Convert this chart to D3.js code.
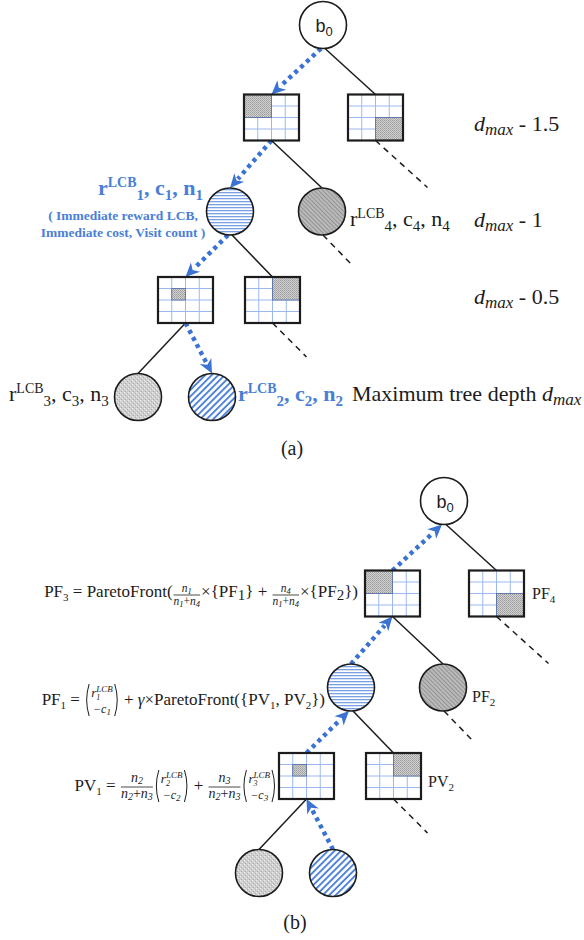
<!DOCTYPE html>
<html>
<head>
<meta charset="utf-8">
<script src="https://cdn.jsdelivr.net/npm/d3@7/dist/d3.min.js"></script>
<style>
html,body{margin:0;padding:0;background:#fff;}
svg{display:block;}
text{white-space:pre;}
</style>
</head>
<body>
<svg id="chart" width="584" height="940"></svg>
<script>
// ---------------- data ----------------
const nodeIds     = ["b0","a1","a2","o1","o4","a3","a4","o3","o2"];
const nodeKinds   = ["root","action","action","obsLines","obsGrey","action","action","obsStipple","obsHatch"];
const nodeDepths  = [0, 0.5, 0.5, 1, 1, 1.5, 1.5, 2, 2];
const nodeParents = [null,"b0","b0","a1","a1","o1","o1","a3","a3"];
const selectedPath = ["a1","o1","a3","o2"];
const openBranches = ["a2","o4","a4"];
const actionCells = {
  a1: [[0,0],[1,0],[0,1],[1,1]],
  a2: [[2,2],[3,2],[2,3],[3,3]],
  a3: [[1,1]],
  a4: [[2,0],[3,0],[2,1],[3,1]]
};
const depthLabels = [
  {depth: 0.5, pre: "", post: " - 1.5"},
  {depth: 1,   pre: "", post: " - 1"},
  {depth: 1.5, pre: "", post: " - 0.5"},
  {depth: 2,   pre: "Maximum tree depth ", post: ""}
];
const statIndex   = {o1: "1", o4: "4", o3: "3", o2: "2"};
const noteLines   = ["( Immediate reward LCB,", "Immediate cost, Visit count )"];
const backupNames = {a2: ["PF","4"], o4: ["PF","2"], a4: ["PV","2"]};
const captions    = ["(a)", "(b)"];

// ---------------- style / layout ----------------
const SERIF = "'Liberation Serif','Times New Roman',serif";
const SANS  = "'Liberation Sans',Arial,sans-serif";
const BLUE = "#3b73d3", BLUE_TXT = "#4a7fd6", INK = "#1c1c1c";
const R = 23.5, BW = 55, BH = 46;
const DX = {b0:0, a1:-51.5, a2:52.5, o1:-93, o4:-1, a3:-137.5, a4:-50.5, o3:-185, o2:-111};
const yLevel = d3.scaleLinear().domain([0,0.5,1,1.5,2]).range([0,92.5,186.5,275,372]);
const STUB = {a2:[52,47], o4:[30,31], a4:[34,34]};

const svg = d3.select("#chart");
const defs = svg.append("defs");

function pat(id, w, h, build, tr) {
  const p = defs.append("pattern").attr("id", id).attr("patternUnits","userSpaceOnUse")
    .attr("width", w).attr("height", h);
  if (tr) p.attr("patternTransform", tr);
  build(p);
}
pat("hl", 4, 3, p => {
  p.append("rect").attr("width",4).attr("height",3).attr("fill","#fff");
  p.append("rect").attr("width",4).attr("height",1.3).attr("fill","#7aa0e4");
});
pat("gd", 3, 3, p => {
  p.append("rect").attr("width",3).attr("height",3).attr("fill","#bcbcbc");
  p.append("rect").attr("width",1.1).attr("height",3).attr("fill","#939393");
}, "rotate(-45)");
pat("st", 4, 4, p => {
  p.append("rect").attr("width",4).attr("height",4).attr("fill","#cdcdcd");
  [[0,0,"#f0f0f0"],[2,2,"#ececec"],[1,3,"#ababab"],[3,1,"#b0b0b0"],[1,1,"#dedede"]].forEach(d =>
    p.append("rect").attr("x",d[0]).attr("y",d[1]).attr("width",1).attr("height",1).attr("fill",d[2]));
});
pat("bd", 4.6, 4.6, p => {
  p.append("rect").attr("width",4.6).attr("height",4.6).attr("fill","#fff");
  p.append("rect").attr("width",1.9).attr("height",4.6).attr("fill","#4d82d8");
}, "rotate(45)");
pat("ck", 2, 2, p => {
  p.append("rect").attr("width",2).attr("height",2).attr("fill","#d2d2d2");
  p.append("rect").attr("width",1).attr("height",1).attr("fill","#9c9c9c");
  p.append("rect").attr("x",1).attr("y",1).attr("width",1).attr("height",1).attr("fill","#a9a9a9");
});
const FILLS = {obsLines:"url(#hl)", obsGrey:"url(#gd)", obsStipple:"url(#st)", obsHatch:"url(#bd)", root:"#fff"};

// rich text: segments with size / dy (relative to baseline) / italic
function rich(g, x, y, segs, o = {}) {
  const t = g.append("text").attr("x", x).attr("y", y)
    .attr("font-family", o.family || SERIF).attr("fill", o.fill || INK)
    .attr("font-size", o.size || 16);
  if (o.bold) t.attr("font-weight", "bold");
  let prev = 0;
  segs.forEach(s => {
    const d = s.dy || 0;
    const sp = t.append("tspan").attr("dy", d - prev).text(s.t);
    prev = d;
    if (s.size) sp.attr("font-size", s.size);
    if (s.it || (o.it && s.it !== false)) sp.attr("font-style", "italic");
  });
  const w = t.node().getComputedTextLength();
  if (o.anchor === "end") t.attr("x", x - w);
  if (o.anchor === "middle") t.attr("x", x - w / 2);
  return {node: t, w};
}

function dottedArrow(g, a, b) {
  const dx = b[0]-a[0], dy = b[1]-a[1], L = Math.hypot(dx, dy), ux = dx/L, uy = dy/L;
  const hl = 14, hw = 6.5, nx = -uy, ny = ux;
  const bx = b[0]-ux*hl, by = b[1]-uy*hl;
  g.append("line").attr("x1", a[0]).attr("y1", a[1]).attr("x2", bx+ux*2).attr("y2", by+uy*2)
    .attr("stroke", BLUE).attr("stroke-width", 4.5).attr("stroke-dasharray", "4 4");
  g.append("path").attr("fill", BLUE)
    .attr("d", `M${b[0]},${b[1]}L${bx+nx*hw},${by+ny*hw}L${bx+ux*4},${by+uy*4}L${bx-nx*hw},${by-ny*hw}Z`);
}
function seg(g, a, b, dash) {
  const l = g.append("line").attr("x1", a[0]).attr("y1", a[1]).attr("x2", b[0]).attr("y2", b[1])
    .attr("stroke", INK).attr("stroke-width", 1.5);
  if (dash) l.attr("stroke-dasharray", "6 5");
}

function drawBox(g, cx, cy, cells) {
  const x0 = cx - BW/2, y0 = cy - BH/2, cw = BW/4, ch = BH/4;
  g.append("rect").attr("x", x0).attr("y", y0).attr("width", BW).attr("height", BH).attr("fill", "#fff");
  for (let i = 1; i < 4; i++) {
    g.append("line").attr("x1", x0+i*cw).attr("x2", x0+i*cw).attr("y1", y0).attr("y2", y0+BH)
      .attr("stroke", "#9db8ee").attr("stroke-width", 1);
    g.append("line").attr("y1", y0+i*ch).attr("y2", y0+i*ch).attr("x1", x0).attr("x2", x0+BW)
      .attr("stroke", "#9db8ee").attr("stroke-width", 1);
  }
  const cs = cells.map(c => c[0]), rs = cells.map(c => c[1]);
  const c0 = d3.min(cs), c1 = d3.max(cs) + 1, r0 = d3.min(rs), r1 = d3.max(rs) + 1;
  g.append("rect").attr("x", x0+c0*cw).attr("y", y0+r0*ch).attr("width", (c1-c0)*cw).attr("height", (r1-r0)*ch)
    .attr("fill", "url(#ck)").attr("stroke", "#5b72a6").attr("stroke-width", 0.9);
  g.append("rect").attr("x", x0).attr("y", y0).attr("width", BW).attr("height", BH)
    .attr("fill", "none").attr("stroke", INK).attr("stroke-width", 2.2);
}

function drawTree(origin, up) {
  const g = svg.append("g");
  const pos = {};
  nodeIds.forEach((id, i) => pos[id] = {x: origin[0] + DX[id], y: origin[1] + yLevel(nodeDepths[i]), kind: nodeKinds[i]});
  const half = id => pos[id].kind === "action" ? BH/2 : R;
  nodeIds.forEach((id, i) => {
    const par = nodeParents[i]; if (!par) return;
    const p = pos[par], c = pos[id];
    const side = c.x < p.x ? -1 : 1;
    const s = [p.x + (p.kind === "action" ? 0 : side*2), p.y + half(par)];
    const e = [c.x, c.y - half(id)];
    if (selectedPath.includes(id)) { if (up) dottedArrow(g, e, s); else dottedArrow(g, s, e); }
    else seg(g, s, e, false);
  });
  openBranches.forEach(id => {
    const p = pos[id], s = [p.x + (p.kind === "action" ? 0 : 1), p.y + half(id)];
    seg(g, s, [s[0] + STUB[id][0], s[1] + STUB[id][1]], true);
  });
  nodeIds.forEach(id => {
    const p = pos[id];
    if (p.kind === "action") drawBox(g, p.x, p.y, actionCells[id]);
    else {
      g.append("circle").attr("cx", p.x).attr("cy", p.y).attr("r", R)
        .attr("fill", FILLS[p.kind]).attr("stroke", INK).attr("stroke-width", 1.6);
      if (p.kind === "root") rich(g, p.x + 1, p.y + 7, [{t:"b"},{t:"0", size:13, dy:4}], {family: SANS, size: 18, anchor: "middle"});
    }
  });
  return pos;
}

// ---------------- (a) ----------------
const A = drawTree([323, 25], false);
const statSegs = i => [{t:"r"},{t:"LCB", size:14, dy:-8},{t:i, size:15, dy:5},{t:", c"},{t:i, size:15, dy:5},{t:", n"},{t:i, size:15, dy:5}];
const ga = svg.append("g");
rich(ga, A.o1.x - 27, A.o1.y - 17, statSegs(statIndex.o1), {size:22, bold:true, fill:BLUE_TXT, anchor:"end"});
noteLines.forEach((s, i) => rich(ga, 123, A.o1.y + 8 + i*17, [{t:s}], {size:13.5, bold:true, fill:BLUE_TXT, anchor:"middle"}));
rich(ga, A.o4.x + 28, A.o4.y + 14, statSegs(statIndex.o4), {size:22});
rich(ga, 9, A.o3.y + 4, statSegs(statIndex.o3), {size:22});
rich(ga, A.o2.x + 26, A.o2.y + 4, statSegs(statIndex.o2), {size:22, bold:true, fill:BLUE_TXT});
const depthBase = {0.5: 131, 1: 227, 1.5: 304, 2: 401};
depthLabels.forEach(d => {
  const segs = [];
  if (d.pre) segs.push({t: d.pre});
  segs.push({t:"d", it:true, dy:0}, {t:"max", it:true, size:17, dy:4});
  if (d.post) segs.push({t: d.post, dy:0});
  rich(ga, d.pre ? 352 : 474, depthBase[d.depth], segs, {size:22});
});
rich(ga, 292, 455, [{t:captions[0]}], {size:20, anchor:"middle"});

// ---------------- (b) ----------------
const B = drawTree([444, 501], true);
const gb = svg.append("g");
rich(gb, B.a2.x + BW/2 + 8, B.a2.y + 5, [{t:backupNames.a2[0]},{t:backupNames.a2[1], size:11, dy:4}], {size:16});
rich(gb, B.o4.x + R + 5.5, B.o4.y + 14, [{t:backupNames.o4[0]},{t:backupNames.o4[1], size:11, dy:4}], {size:16});
rich(gb, B.a4.x + BW/2 + 7, B.a4.y + 11, [{t:backupNames.a4[0]},{t:backupNames.a4[1], size:11, dy:4}], {size:16});

function formula(g, pieces, xEnd, base, size) {
  const grp = g.append("g");
  let cx = 0;
  pieces.forEach(p => {
    if (p.type === "t") {
      cx += rich(grp, cx, base, p.segs, {size}).w;
    } else if (p.type === "frac") {
      const n = rich(grp, 0, base + p.numDy, p.num, {size: p.size, it: true});
      const d = rich(grp, 0, base + p.denDy, p.den, {size: p.size, it: true});
      const w = Math.max(n.w, d.w) + 2*p.pad;
      n.node.attr("x", cx + (w - n.w)/2);
      d.node.attr("x", cx + (w - d.w)/2);
      grp.append("line").attr("x1", cx + 1).attr("x2", cx + w - 1)
        .attr("y1", base + p.barDy).attr("y2", base + p.barDy).attr("stroke", INK).attr("stroke-width", 0.8);
      cx += w;
    } else if (p.type === "vec") {
      const es = 13, ss = 9;
      const topB = base - 8, botB = base + 8;
      // top entry: r with stacked superscript LCB and subscript index, in one text element
      const t = grp.append("text").attr("y", topB).attr("font-family", SERIF)
        .attr("font-size", es).attr("font-style", "italic").attr("fill", INK);
      const rs = t.append("tspan").text("r");
      const rw = rs.node().getComputedTextLength();
      const sp = t.append("tspan").attr("dy", -5).attr("font-size", ss).text("LCB");
      const supW = sp.node().getComputedTextLength();
      const sb = t.append("tspan").attr("dy", 8).attr("font-size", ss - 1).text(p.i);
      const subW = sb.node().getComputedTextLength();
      const tw = rw + Math.max(supW, subW);
      const bot = rich(grp, 0, botB, [{t:"−c"},{t:p.i, size: ss, dy: 2}], {size: 12, it: true});
      const inner = Math.max(tw, bot.w) + 2, pw = 6;
      const tx = cx + pw + (inner - tw)/2;
      t.attr("x", tx); sb.attr("x", tx + rw);
      bot.node.attr("x", cx + pw + (inner - bot.w)/2);
      const y0 = base - 21, y1 = base + 11, ym = (y0 + y1)/2;
      grp.append("path").attr("d", `M${cx+pw-1},${y0}Q${cx},${ym} ${cx+pw-1},${y1}`)
        .attr("fill", "none").attr("stroke", INK).attr("stroke-width", 1);
      const rx = cx + pw + inner;
      grp.append("path").attr("d", `M${rx+1},${y0}Q${rx+pw},${ym} ${rx+1},${y1}`)
        .attr("fill", "none").attr("stroke", INK).attr("stroke-width", 1);
      cx = rx + pw;
    }
  });
  grp.attr("transform", `translate(${xEnd - cx},0)`);
}
const nSub = (k, s) => [{t:"n"},{t:k, size:s, dy:2}];
const nSum = (a, b, s) => [{t:"n"},{t:a, size:s, dy:2},{t:"+", it:false, dy:0},{t:"n"},{t:b, size:s, dy:2}];

formula(gb, [
  {type:"t", segs:[{t:"PF"},{t:"3", size:11, dy:4},{t:" = ParetoFront(", dy:0}]},
  {type:"frac", num:nSub("1", 8.5), den:nSum("1","4", 8.5), size:11.5, numDy:-5, denDy:8, barDy:-2, pad:1},
  {type:"t", segs:[{t:"×{PF"},{t:"1", size:15, dy:3},{t:"} + ", dy:0}]},
  {type:"frac", num:nSub("4", 8.5), den:nSum("1","4", 8.5), size:11.5, numDy:-5, denDy:8, barDy:-2, pad:1},
  {type:"t", segs:[{t:"×{PF"},{t:"2", size:15, dy:3},{t:"})", dy:0}]}
], 358, 597, 17);

formula(gb, [
  {type:"t", segs:[{t:"PF"},{t:"1", size:11, dy:4},{t:" = ", dy:0}]},
  {type:"vec", i:"1"},
  {type:"t", segs:[{t:" + "},{t:"γ", it:true},{t:"×ParetoFront({PV"},{t:"1", size:11, dy:4},{t:", PV", dy:0},{t:"2", size:11, dy:4},{t:"})", dy:0}]}
], 325, 705, 17);

formula(gb, [
  {type:"t", segs:[{t:"PV"},{t:"1", size:11, dy:4},{t:" = ", dy:0}]},
  {type:"frac", num:nSub("2", 10), den:nSum("2","3", 10), size:14, numDy:-9, denDy:7, barDy:-4, pad:1},
  {type:"vec", i:"2"},
  {type:"t", segs:[{t:" + "}]},
  {type:"frac", num:nSub("3", 10), den:nSum("2","3", 10), size:14, numDy:-9, denDy:7, barDy:-4, pad:1},
  {type:"vec", i:"3"}
], 277, 791, 17);

rich(gb, 295, 929, [{t:captions[1]}], {size:20, anchor:"middle"});
</script>
</body>
</html>
